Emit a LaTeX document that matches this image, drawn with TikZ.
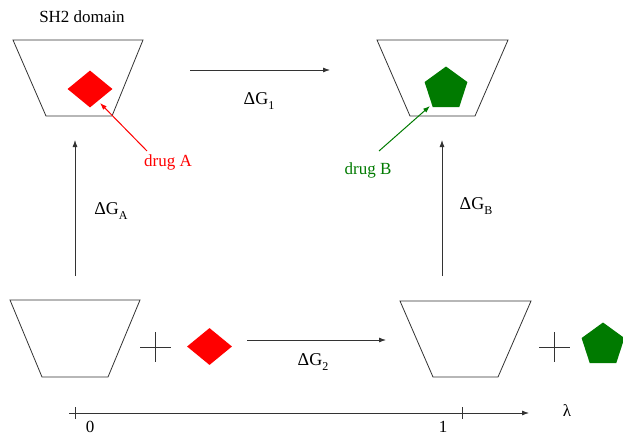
\documentclass[tikz,border=0pt]{standalone}
\usepackage{fontspec}
\setmainfont{Liberation Serif}
\usetikzlibrary{shapes.geometric,arrows.meta}
\definecolor{dgreen}{RGB}{0,122,0}
\newcommand{\dG}[1]{ΔG\raisebox{-0.5ex}{\fontsize{12}{13}\selectfont #1}}
\begin{document}
\begin{tikzpicture}[x=1pt,y=-1pt,
  line/.style={draw=black!80,line width=0.8pt},
  arr/.style={line,-{Latex[length=7pt,width=5pt]}},
  lbl/.style={font=\fontsize{17}{20}\selectfont,inner sep=0pt},
  cup/.style={line},
  dia/.style={diamond,fill=red,inner sep=0pt,minimum width=45pt,minimum height=37pt},
  pent/.style={regular polygon,regular polygon sides=5,fill=dgreen,inner sep=0pt,minimum size=45pt},
  plus/.style={line}]
\useasboundingbox (0,0) rectangle (623,436);
% cups
\draw[cup] (13,40) -- (143,40) -- (112,116) -- (46,116) -- cycle;
\draw[cup] (377,40) -- (508,40) -- (475,116) -- (410,116) -- cycle;
\draw[cup] (10,300) -- (140,300) -- (108,377) -- (42,377) -- cycle;
\draw[cup] (400,301) -- (531,301) -- (498,377) -- (433,377) -- cycle;
% ligands
\node[dia] (dA) at (90,89) {};
\node[pent] (pB) at (446,89) {};
\node[dia] (dA2) at (209.5,346.5) {};
\node[pent] (pB2) at (603,345) {};
% plus signs
\draw[plus] (140,347) -- (171,347) (155,332) -- (155,362);
\draw[plus] (539,347) -- (570,347) (554,332) -- (554,362);
% labels
\node[lbl] (sh2) at (82,17) {SH2 domain};
\node[lbl,text=red] (drugA) at (168,162) {drug A};
\node[lbl,text=dgreen] (drugB) at (368,170) {drug B};
\coordinate (drugAend) at (147,151);
\coordinate (drugBend) at (379,151);
\draw[line,draw=red,line width=1pt,-{Latex[length=7pt,width=5pt]}] (drugAend) -- (100,103);
\draw[line,draw=dgreen,line width=1pt,-{Latex[length=7pt,width=5pt]}] (drugBend) -- (430,106);
% process arrows
\coordinate (t1) at (190,70); \coordinate (t2) at (330,70);
\coordinate (b1) at (247,340); \coordinate (b2) at (386,340);
\coordinate (l1) at (75,276); \coordinate (l2) at (75,140);
\coordinate (r1) at (442,276); \coordinate (r2) at (442,140);
\draw[arr] (t1) -- (t2);
\draw[arr] (b1) -- (b2);
\draw[arr] (l1) -- (l2);
\draw[arr] (r1) -- (r2);
\node[lbl,font=\fontsize{18}{21}\selectfont] (g1) at (259,101) {\dG{1}};
\node[lbl,font=\fontsize{18}{21}\selectfont] (g2) at (313,362) {\dG{2}};
\node[lbl,font=\fontsize{18}{21}\selectfont] (gA) at (111,211) {\dG{A}};
\node[lbl,font=\fontsize{18}{21}\selectfont] (gB) at (476,206) {\dG{B}};
% lambda axis
\coordinate (ax0) at (69,413); \coordinate (ax1) at (529,413);
\draw[arr] (ax0) -- (ax1);
\draw[line] (75,407) -- (75,419);
\draw[line] (462,407) -- (462,419);
\node[lbl] (z0) at (90,427) {0};
\node[lbl] (z1) at (443,427) {1};
\node[lbl] (lam) at (567,411) {λ};
\end{tikzpicture}
\end{document}
